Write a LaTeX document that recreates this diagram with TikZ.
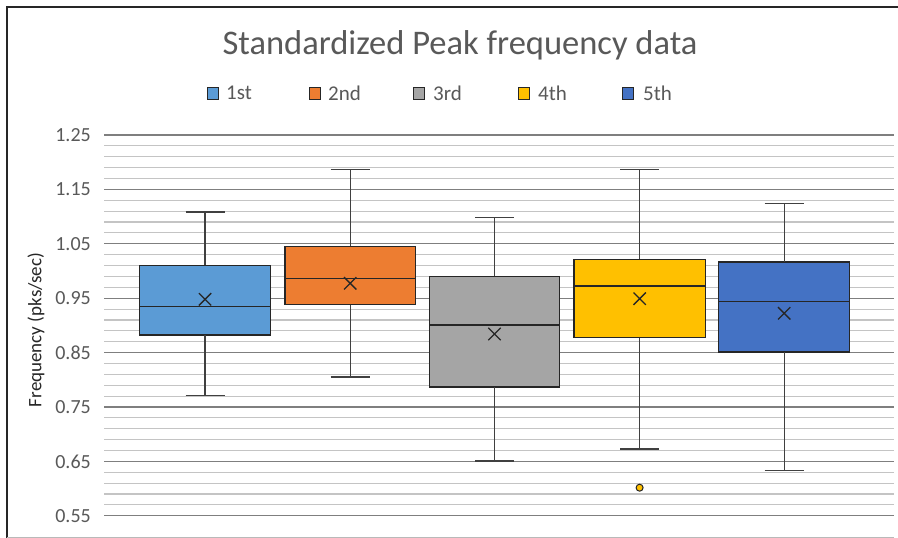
\documentclass[tikz,border=0pt]{standalone}
\usepackage{fontspec}
\setmainfont{Carlito}
\usetikzlibrary{shapes.misc}
\definecolor{c1}{HTML}{5B9BD5}
\definecolor{c2}{HTML}{ED7D31}
\definecolor{c3}{HTML}{A5A5A5}
\definecolor{c4}{HTML}{FFC000}
\definecolor{c5}{HTML}{4472C4}
\definecolor{txtgray}{HTML}{595959}
\definecolor{edge}{HTML}{262626}
\definecolor{whiskc}{HTML}{404040}
\definecolor{gmajc}{HTML}{7F7F7F}
\definecolor{gminc}{HTML}{C4C4C4}
\newcommand\drawbp[9]{%
  \pgfmathsetmacro\cx{(#2+#3)/2}%
  \pgfmathsetmacro\bh{#6-#4}%
  \pgfmathsetmacro\bw{#3-#2}%
  \pgfmathsetmacro\by{(#4+#6)/2}%
  \coordinate (wt#1) at (\cx,#7);
  \coordinate (wb#1) at (\cx,#8);
  \node[bx, fill=c#1, minimum width=\bw pt, minimum height=\bh pt] (b#1) at (\cx,\by) {};
  \draw[whisk] (b#1.north) -- (wt#1);
  \draw[whisk] (b#1.south) -- (wb#1);
  \draw[whisk] ([xshift=-19.5pt]wt#1) -- ([xshift=19.5pt]wt#1);
  \draw[whisk] ([xshift=-19.5pt]wb#1) -- ([xshift=19.5pt]wb#1);
  \draw[medline] (b#1.west |- 0,#5) -- (b#1.east |- 0,#5);
  \node[meanx] (m#1) at (\cx,#9) {};
}
\begin{document}
\begin{tikzpicture}[x=1pt,y=-1pt,
  bx/.style={draw=edge, line width=1.5pt, inner sep=0pt, outer sep=0pt, rectangle},
  whisk/.style={draw=whiskc, line width=1.3pt},
  medline/.style={draw=edge, line width=1.5pt},
  meanx/.style={cross out, draw=edge, line width=1.3pt, minimum size=11pt, inner sep=0pt},
  gmaj/.style={draw=gmajc, line width=1.1pt},
  gmin/.style={draw=gminc, line width=1.1pt},
  tick/.style={text=txtgray, font=\fontsize{20}{23}\selectfont, anchor=east, inner sep=0pt},
  legtxt/.style={text=txtgray, font=\fontsize{21}{24}\selectfont, anchor=west, inner sep=0pt},
  legsq/.style={draw=edge, line width=1pt, minimum width=11pt, minimum height=12pt, inner sep=0pt}]
\useasboundingbox (0,0) rectangle (898,538);
\fill[white] (0,0) rectangle (898,538);
% frame
\draw[line width=2.4pt, edge] (7,538) -- (7,7) -- (898,7);
\draw[line width=1pt, gray!55] (7,537) -- (894,537);
% title
\node[text=txtgray, font=\fontsize{34.5}{40}\selectfont] (title) at (460,45) {Standardized Peak frequency data};
% legend
\foreach \i/\sx/\tx/\lab in {1/213/226/1st, 2/315/328/2nd, 3/419/433/3rd, 4/524/538/4th, 5/628/643/5th}{
  \node[legsq, fill=c\i] (ls\i) at (\sx,93) {};
  \node[legtxt] (lt\i) at (\tx,93) {\lab};
}
% gridlines
\foreach \i in {0,...,35}{
  \pgfmathsetmacro\gy{135+\i*10.88}
  \pgfmathtruncatemacro\mj{mod(\i,5)==0}
  \ifnum\mj=1 \draw[gmaj] (104,\gy) -- (894,\gy); \else \draw[gmin] (104,\gy) -- (894,\gy); \fi
}
% tick labels
\foreach \lab [count=\k from 0] in {1.25,1.15,1.05,0.95,0.85,0.75,0.65,0.55}{
  \node[tick] (t\k) at (91,135+\k*54.4) {\lab};
}
% axis title
\node[rotate=90, text=edge, font=\fontsize{19}{22}\selectfont] (ytitle) at (36,330) {Frequency (pks/sec)};
% boxes
\drawbp{1}{139.5}{270.7}{265.3}{306.5}{335}{212}{395.7}{299.3}
\drawbp{2}{285}{415.3}{246.3}{278.7}{304.7}{169.7}{377}{283.3}
\drawbp{3}{429.3}{559.7}{276.3}{325}{387}{217.3}{461}{334}
\drawbp{4}{574}{705.3}{259.3}{286}{337.5}{169.7}{449}{298.7}
\drawbp{5}{718.7}{849.7}{262}{301.3}{352}{203.3}{470.3}{313.3}
% outlier
\node[circle, draw=edge, fill=c4, line width=1pt, minimum size=7pt, inner sep=0pt] (o4) at (639.6,487.7) {};
\end{tikzpicture}
\end{document}
